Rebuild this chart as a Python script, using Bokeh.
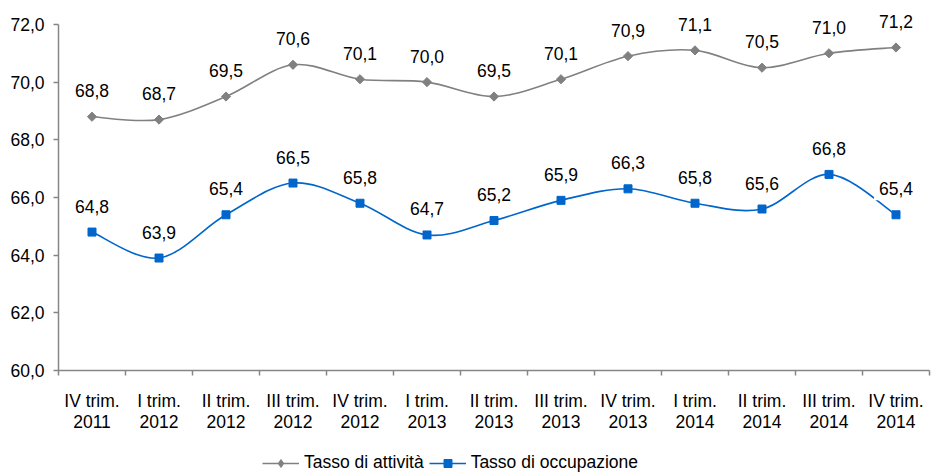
import math
from bokeh.plotting import figure
from bokeh.layouts import column
from bokeh.models import (Range1d, FixedTicker, ColumnDataSource, Legend, LegendItem)
from bokeh.core.properties import value
from bokeh.embed import file_html
from bokeh.resources import INLINE

# Quarterly labour-market rates (%)
quarters = ["IV trim.\n2011", "I trim.\n2012", "II trim.\n2012", "III trim.\n2012",
            "IV trim.\n2012", "I trim.\n2013", "II trim.\n2013", "III trim.\n2013",
            "IV trim.\n2013", "I trim.\n2014", "II trim.\n2014", "III trim.\n2014",
            "IV trim.\n2014"]
attivita = [68.8, 68.7, 69.5, 70.6, 70.1, 70.0, 69.5, 70.1, 70.9, 71.1, 70.5, 71.0, 71.2]
occupazione = [64.8, 63.9, 65.4, 66.5, 65.8, 64.7, 65.2, 65.9, 66.3, 65.8, 65.6, 66.8, 65.4]
series_names = ["Tasso di attività", "Tasso di occupazione"]
y_ticks = [60, 62, 64, 66, 68, 70, 72]

FONT = "Liberation Sans"
FS = "17.5px"
GRAY = "#808080"
BLUE = "#0066CC"
AXIS = "#868686"


def fmt(v):
    return f"{v:.1f}".replace(".", ",")


def smooth_segments(ys):
    """Cubic Bezier segments through the points (Catmull-Rom style smoothing)."""
    n = len(ys)
    xs = list(range(n))
    seg = dict(x0=[], y0=[], x1=[], y1=[], cx0=[], cy0=[], cx1=[], cy1=[])
    for i in range(n - 1):
        p = max(i - 1, 0)
        q = min(i + 2, n - 1)
        seg["x0"].append(xs[i]); seg["y0"].append(ys[i])
        seg["x1"].append(xs[i + 1]); seg["y1"].append(ys[i + 1])
        seg["cx0"].append(xs[i] + (xs[i + 1] - xs[p]) / 6)
        seg["cy0"].append(ys[i] + (ys[i + 1] - ys[p]) / 6)
        seg["cx1"].append(xs[i + 1] - (xs[q] - xs[i]) / 6)
        seg["cy1"].append(ys[i + 1] - (ys[q] - ys[i]) / 6)
    return ColumnDataSource(seg)


n = len(quarters)
# frame reaches the top edge so the value labels above 72 are not clipped;
# the y axis itself stops at 72
p = figure(width=932, height=440, output_backend="svg", toolbar_location=None,
           x_range=Range1d(-0.5, n - 0.5), y_range=Range1d(60, 72.83),
           min_border_left=58, min_border_right=3, min_border_top=0,
           min_border_bottom=70)
p.outline_line_color = None
p.xgrid.visible = False
p.ygrid.visible = False
p.background_fill_color = "white"
p.border_fill_color = "white"

# y axis
p.yaxis.ticker = FixedTicker(ticks=y_ticks)
p.yaxis.bounds = (60, 72)
p.yaxis.major_label_overrides = {t: fmt(t) for t in y_ticks}
p.yaxis.major_tick_out = 5
p.yaxis.major_tick_in = 0
p.yaxis.minor_tick_line_color = None
p.yaxis.major_label_standoff = 9

# x axis: labels at category centres, tick marks at category boundaries
p.xaxis.ticker = FixedTicker(ticks=list(range(n)),
                             minor_ticks=[i - 0.5 for i in range(n + 1)])
p.xaxis.major_label_overrides = {i: q for i, q in enumerate(quarters)}
p.xaxis.major_tick_out = 0
p.xaxis.major_tick_in = 0
p.xaxis.minor_tick_out = 5
p.xaxis.minor_tick_in = 0
p.xaxis.major_label_standoff = 15
p.xaxis.major_label_text_line_height = 1.05

for ax in (p.xaxis, p.yaxis):
    ax.axis_line_color = AXIS
    ax.axis_line_width = 1.5
    ax.major_tick_line_color = AXIS
    ax.major_tick_line_width = 1.5
    ax.minor_tick_line_width = 1.5
    ax.major_label_text_font = FONT
    ax.major_label_text_font_size = FS
    ax.major_label_text_color = "black"
p.xaxis.minor_tick_line_color = AXIS

xs = list(range(n))
src_a = ColumnDataSource(dict(x=xs, y=attivita, t=[fmt(v) for v in attivita]))
src_o = ColumnDataSource(dict(x=xs, y=occupazione, t=[fmt(v) for v in occupazione]))

styles = [
    dict(src=src_a, color=GRAY, marker="square", size=6.5, angle=math.pi / 4,
         key_marker="diamond", key_size=11),
    dict(src=src_o, color=BLUE, marker="square", size=8, angle=0,
         key_marker="square", key_size=8),
]

for vals, st in zip([attivita, occupazione], styles):
    p.bezier(x0="x0", y0="y0", x1="x1", y1="y1", cx0="cx0", cy0="cy0",
             cx1="cx1", cy1="cy1", source=smooth_segments(vals),
             line_color=st["color"], line_width=1.6)
for st in styles:
    p.scatter("x", "y", source=st["src"], marker=st["marker"], angle=st["angle"],
              size=st["size"], fill_color=st["color"], line_color=st["color"])

# value labels on white boxes, above each point
for st in styles:
    p.text(x="x", y="y", text="t", source=st["src"], y_offset=-26,
           text_align="center", text_baseline="middle",
           text_font=value(FONT), text_font_size=value(FS), text_color="black",
           background_fill_color="white", padding=5)

# legend strip underneath the chart; its renderers reuse the series data but
# the strip's ranges keep them out of view, so only the legend keys show
lg = figure(width=932, height=33, output_backend="svg", toolbar_location=None,
            x_range=Range1d(100, 101), y_range=Range1d(100, 101),
            min_border_left=0, min_border_right=0, min_border_top=0,
            min_border_bottom=0)
lg.axis.visible = False
lg.grid.visible = False
lg.outline_line_color = None
key_items = []
for name, st in zip(series_names, styles):
    ln = lg.line("x", "y", source=st["src"], line_color=st["color"], line_width=1.6)
    mk = lg.scatter("x", "y", source=st["src"], marker=st["key_marker"],
                    size=st["key_size"], fill_color=st["color"], line_color=st["color"])
    key_items.append(LegendItem(label=name, renderers=[ln, mk]))

legend = Legend(items=key_items, orientation="horizontal", location=(204, 0),
                glyph_width=37, glyph_height=20, label_standoff=5, spacing=5,
                padding=0, margin=0, border_line_color=None,
                background_fill_alpha=0, label_text_color="black",
                label_text_font=FONT, label_text_font_size=FS)
lg.add_layout(legend, "center")

open("out.html", "w").write(file_html(column(p, lg, spacing=0), INLINE))
